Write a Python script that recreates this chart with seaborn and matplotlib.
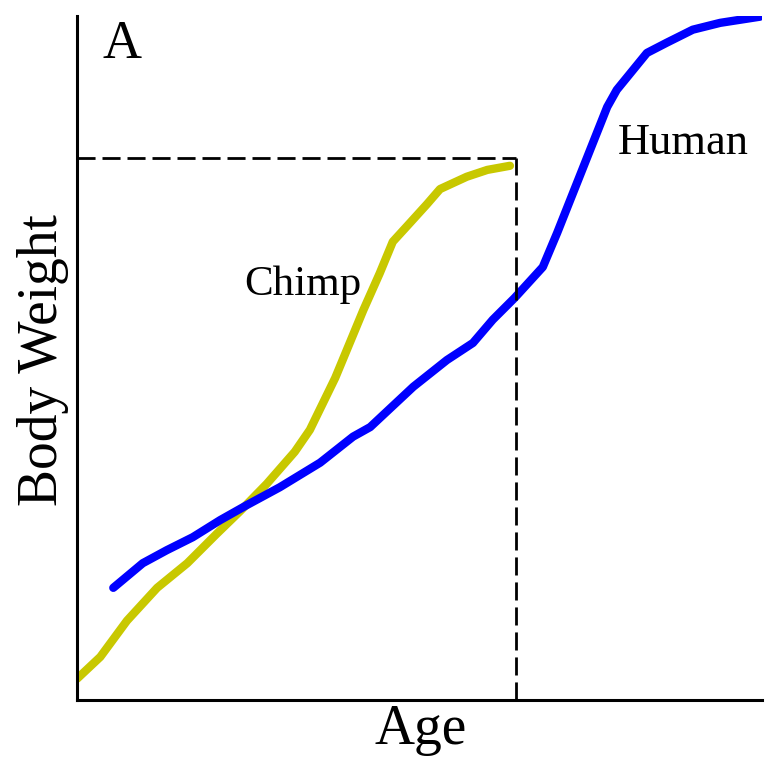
import pandas as pd
import matplotlib.pyplot as plt
import seaborn as sns

# -------------------------------
# Data (arbitrary 0-100 units)
# -------------------------------
chimp_age = [0, 3.4, 7.3, 11.7, 16.1, 20.4, 23.8, 27.7, 31.8, 34.0, 35.9,
             37.7, 39.4, 41.8, 44.2, 46.1, 48.2, 51.1, 53.0, 56.9, 59.9, 63.2]
chimp_weight = [3.1, 6.3, 11.6, 16.4, 20.0, 24.3, 27.6, 31.6, 36.3, 39.5, 43.4,
                47.1, 51.2, 57.0, 62.4, 67.0, 69.3, 72.5, 74.7, 76.5, 77.5, 78.1]

human_age = [5.3, 9.6, 13.1, 16.9, 20.9, 24.8, 29.6, 35.5, 40.3, 42.8, 49.1,
             54.0, 57.8, 60.7, 63.9, 68.0, 70.1, 72.4, 74.9, 77.4, 78.8, 83.2,
             86.1, 89.9, 93.9, 99.7]
human_weight = [16.4, 20.0, 21.9, 23.8, 26.3, 28.5, 31.1, 34.7, 38.5, 39.9, 45.8,
                49.7, 52.2, 55.6, 58.8, 63.3, 68.3, 74.1, 80.4, 86.7, 89.2, 94.6,
                96.1, 98.0, 99.0, 99.9]

# chimp adult point (corner of the dashed box)
chimp_adult_age = 64.1
chimp_adult_weight = 79.2

df = pd.concat([
    pd.DataFrame({"Age": chimp_age, "Weight": chimp_weight, "Species": "Chimp"}),
    pd.DataFrame({"Age": human_age, "Weight": human_weight, "Species": "Human"}),
])

# -------------------------------
# Plot
# -------------------------------
sns.set_style("white")
plt.rcParams["font.family"] = ["Liberation Serif", "DejaVu Serif"]
plt.rcParams["text.color"] = "black"
plt.rcParams["axes.labelcolor"] = "black"

fig = plt.figure(figsize=(7.66, 7.58), dpi=100)
ax = fig.add_axes([77 / 766, 58 / 758, 685 / 766, 684 / 758])

sns.lineplot(data=df, x="Age", y="Weight", hue="Species",
             palette={"Chimp": "#C8C800", "Human": "#0000FF"},
             linewidth=6, legend=False, ax=ax, sort=False,
             solid_capstyle="round", solid_joinstyle="round")

# dashed box marking chimp adult age / weight
ax.plot([0, chimp_adult_age], [chimp_adult_weight, chimp_adult_weight],
        color="black", lw=2, dashes=(6.5, 2.5))
ax.plot([chimp_adult_age, chimp_adult_age], [0, chimp_adult_weight],
        color="black", lw=2, dashes=(6.5, 2.5))

ax.set_xlim(0, 100)
ax.set_ylim(0, 100)
ax.set_xticks([])
ax.set_yticks([])
for side in ["top", "right"]:
    ax.spines[side].set_visible(False)
for side in ["left", "bottom"]:
    ax.spines[side].set_color("black")
    ax.spines[side].set_linewidth(2.2)

ax.set_xlabel("Age", fontsize=40, va="center")
ax.xaxis.set_label_coords(0.502, -0.044)
ax.set_ylabel("Body Weight", fontsize=40, va="center")
ax.yaxis.set_label_coords(-0.05, 0.497)

ax.text(33.0, 60.7, "Chimp", fontsize=31, ha="center", va="center")
ax.text(88.5, 81.4, "Human", fontsize=32, ha="center", va="center")
ax.text(6.6, 95.8, "A", fontsize=39, ha="center", va="center")

fig.savefig("out.png", dpi=100)
